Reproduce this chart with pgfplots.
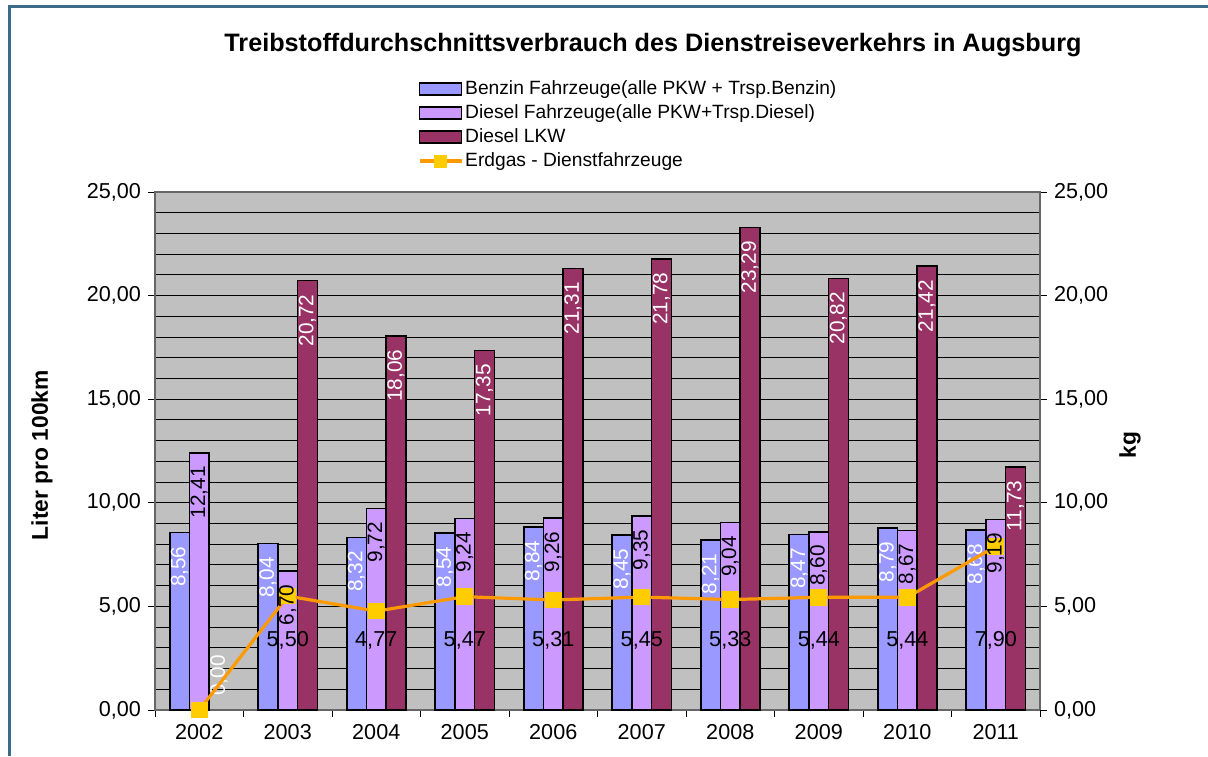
\documentclass[border=0pt]{standalone}
\usepackage{pgfplots}
\pgfplotsset{compat=1.18}
\usepackage{fontspec}
\setmainfont{Liberation Sans}
\definecolor{benzin}{HTML}{9999FF}
\definecolor{dpkw}{HTML}{CC99FF}
\definecolor{lkw}{HTML}{993366}
\definecolor{erdline}{HTML}{FF9900}
\definecolor{erdmark}{HTML}{FFCC00}
\definecolor{plotgray}{HTML}{C0C0C0}
\definecolor{framecol}{HTML}{3D6A86}
\newcommand{\lblfont}{\fontsize{10.4}{12}\selectfont}
\newcommand{\tickfont}{\fontsize{10.8}{13}\selectfont}
\pgfplotsset{
  /pgf/number format/.cd, fixed, fixed zerofill, precision=2, use comma, 1000 sep={}, assume math mode=true
}
\pgfplotsset{erdlegend/.style={legend image code/.code={\draw[mark repeat=2, mark phase=2, ##1, mark size=3pt] plot coordinates {(0pt,0pt) (10.5pt,0pt) (21pt,0pt)};}}}
\pgfplotstableread{
x benzin dpkw
0 8.56 12.41
1 8.04 6.70
2 8.32 9.72
3 8.54 9.24
4 8.84 9.26
5 8.45 9.35
6 8.21 9.04
7 8.47 8.60
8 8.79 8.67
9 8.68 9.19
}\pkwdata
\begin{document}
\begin{tikzpicture}
\begin{axis}[
  at={(77.5pt,23pt)}, anchor=south west,
  scale only axis, width=442.5pt, height=259pt,
  xmin=-0.5, xmax=9.5, ymin=0, ymax=25,
  ybar, bar width=9.85pt,
  axis background/.style={fill=plotgray},
  axis line style={draw=black!60, line width=0.6pt},
  xtick={-0.5,0.5,...,9.5}, x tick label as interval,
  xticklabels={2002,2003,2004,2005,2006,2007,2008,2009,2010,2011},
  ytick={0,5,...,25}, minor y tick num=4,
  ymajorgrids, yminorgrids,
  major grid style={black, line width=0.5pt},
  minor grid style={black, line width=0.5pt},
  tick align=outside, xtick pos=bottom, ytick pos=left,
  major tick length=3.5pt, minor tick length=0pt,
  every tick/.style={black, line width=0.5pt},
  tick label style={font=\tickfont},
  ylabel={Liter pro 100km},
  ylabel style={at={(axis description cs:-0.1277,0.492)}, anchor=center, font=\bfseries\fontsize{11.4}{13}\selectfont},
  every axis title shift=0pt,
  title={Treibstoffdurchschnittsverbrauch des Dienstreiseverkehrs in Augsburg},
  title style={at={(axis description cs:0.5627,1.2838)}, anchor=center, font=\bfseries\fontsize{12.6}{15}\selectfont},
]
\addplot[fill=benzin, draw=black, line width=0.8pt, bar shift=-9.85pt,
  nodes near coords, every node near coord/.append style={text=white, rotate=90, anchor=east, inner xsep=6.5pt, font=\lblfont}]
  table[x=x, y=benzin] {\pkwdata};
\addplot[fill=dpkw, draw=black, line width=0.8pt, bar shift=0pt]
  table[x=x, y=dpkw] {\pkwdata};
\addplot[fill=lkw, draw=black, line width=0.8pt, bar shift=9.85pt,
  nodes near coords, every node near coord/.append style={text=white, rotate=90, anchor=east, inner xsep=6.5pt, font=\lblfont}]
  coordinates {(1,20.72) (2,18.06) (3,17.35) (4,21.31) (5,21.78) (6,23.29) (7,20.82) (8,21.42) (9,11.73)};
\addplot[draw=none, fill=none, bar shift=9.85pt,
  nodes near coords, every node near coord/.append style={text=white, rotate=90, anchor=west, inner xsep=7pt, font=\lblfont}]
  coordinates {(0,0)};
\end{axis}
\begin{axis}[
  at={(77.5pt,23pt)}, anchor=south west,
  scale only axis, width=442.5pt, height=259pt,
  xmin=-0.5, xmax=9.5, ymin=0, ymax=25,
  axis x line=none, axis y line*=right,
  axis line style={draw=black!60, line width=0.6pt, -},
  ytick={0,5,...,25}, tick align=outside, ytick pos=right,
  major tick length=3.5pt,
  every tick/.style={black, line width=0.5pt},
  tick label style={font=\tickfont},
  ylabel={kg},
  ylabel style={at={(axis description cs:1.1017,0.5116)}, anchor=center, font=\bfseries\fontsize{11.4}{13}\selectfont},
  legend cell align=left,
  legend style={at={(axis description cs:0.2972,1.222)}, anchor=north west, draw=none, fill=none,
    inner sep=0pt, outer sep=0pt, row sep=0pt, font=\fontsize{9.6}{11}\selectfont,
    nodes={inner xsep=1pt, inner ysep=1pt, text height=7.5pt, text depth=2.5pt}},
]
\addlegendimage{legend image code/.code={\draw[fill=benzin, draw=black, line width=0.8pt] (0pt,-3pt) rectangle (21pt,3pt);}}
\addlegendentry{Benzin Fahrzeuge(alle PKW + Trsp.Benzin)}
\addlegendimage{legend image code/.code={\draw[fill=dpkw, draw=black, line width=0.8pt] (0pt,-3pt) rectangle (21pt,3pt);}}
\addlegendentry{Diesel Fahrzeuge(alle PKW+Trsp.Diesel)}
\addlegendimage{legend image code/.code={\draw[fill=lkw, draw=black, line width=0.8pt] (0pt,-3pt) rectangle (21pt,3pt);}}
\addlegendentry{Diesel LKW}
\addplot[erdline, line width=1.6pt, mark=square*, mark size=3.9pt,
  mark options={fill=erdmark, draw=erdmark, line width=0pt}, erdlegend]
  coordinates {(0,0.00) (1,5.50) (2,4.77) (3,5.47) (4,5.31) (5,5.45) (6,5.33) (7,5.44) (8,5.44) (9,7.90)};
\addlegendentry{Erdgas - Dienstfahrzeuge}
\addplot[draw=none, mark=none, forget plot,
  nodes near coords, every node near coord/.append style={text=black, rotate=90, anchor=east, inner xsep=6.5pt, font=\lblfont}]
  table[x=x, y=dpkw] {\pkwdata};
\addplot[draw=none, mark=none, forget plot, point meta=explicit,
  nodes near coords, every node near coord/.append style={text=black, anchor=center, font=\tickfont}]
  coordinates {(1,3.38) [5.50] (2,3.38) [4.77] (3,3.38) [5.47] (4,3.38) [5.31] (5,3.38) [5.45] (6,3.38) [5.33] (7,3.38) [5.44] (8,3.38) [5.44] (9,3.38) [7.90]};
\end{axis}
\draw[framecol, line width=1.5pt] (4.8pt,0pt) -- (4.8pt,374.5pt) -- (604pt,374.5pt);
\pgfresetboundingbox
\path[use as bounding box] (0pt,0pt) rectangle (604pt,378pt);
\end{tikzpicture}
\end{document}
